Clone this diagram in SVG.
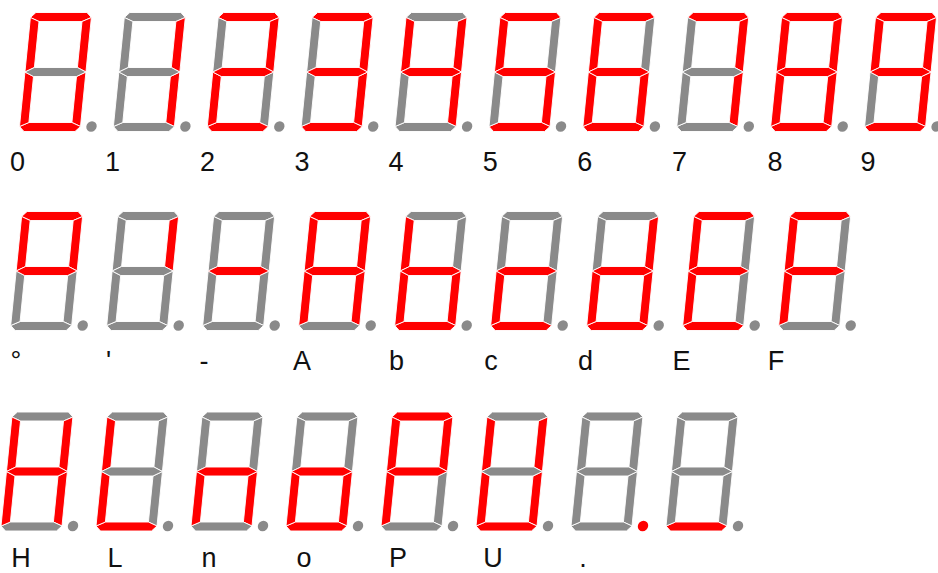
<svg xmlns="http://www.w3.org/2000/svg" width="938" height="573" viewBox="0 0 938 573">
<style>
.r{fill:#ff0000}
.k{fill:#8a8a8a}
.s{stroke:#ffffff;stroke-width:0.9;stroke-linejoin:miter}
.lbl{font-family:"Liberation Sans",Arial,sans-serif;font-size:27px;fill:#111;text-anchor:middle}
</style>
<defs>
<polygon id="a" class="s" points="5,0 56,0 61,5 52,9 9,9 0,5"/>
<polygon id="b" class="s" points="61,5 61,59.5 52,55 52,9"/>
<polygon id="c" class="s" points="61,59.5 61,114 52,110 52,64"/>
<polygon id="d" class="s" points="0,114 9,110 52,110 61,114 56,119 5,119"/>
<polygon id="e" class="s" points="0,59.5 9,64 9,110 0,114"/>
<polygon id="f" class="s" points="0,5 9,9 9,55 0,59.5"/>
<polygon id="g" class="s" points="0,59.5 9,55 52,55 61,59.5 52,64 9,64"/>
<circle id="p" cx="72" cy="114" r="5.2"/>
</defs>
<g id="row1">
<g id="dig0" transform="translate(30.9,12.5) skewX(-5.71)"><use href="#a" class="r"/><use href="#b" class="r"/><use href="#c" class="r"/><use href="#d" class="r"/><use href="#e" class="r"/><use href="#f" class="r"/><use href="#g" class="k"/><use href="#p" class="k"/></g>
<g id="dig1" transform="translate(124.8,12.5) skewX(-5.71)"><use href="#a" class="k"/><use href="#b" class="r"/><use href="#c" class="r"/><use href="#d" class="k"/><use href="#e" class="k"/><use href="#f" class="k"/><use href="#g" class="k"/><use href="#p" class="k"/></g>
<g id="dig2" transform="translate(218.7,12.5) skewX(-5.71)"><use href="#a" class="r"/><use href="#b" class="r"/><use href="#c" class="k"/><use href="#d" class="r"/><use href="#e" class="r"/><use href="#f" class="k"/><use href="#g" class="r"/><use href="#p" class="k"/></g>
<g id="dig3" transform="translate(312.6,12.5) skewX(-5.71)"><use href="#a" class="r"/><use href="#b" class="r"/><use href="#c" class="r"/><use href="#d" class="r"/><use href="#e" class="k"/><use href="#f" class="k"/><use href="#g" class="r"/><use href="#p" class="k"/></g>
<g id="dig4" transform="translate(406.5,12.5) skewX(-5.71)"><use href="#a" class="k"/><use href="#b" class="r"/><use href="#c" class="r"/><use href="#d" class="k"/><use href="#e" class="k"/><use href="#f" class="r"/><use href="#g" class="r"/><use href="#p" class="k"/></g>
<g id="dig5" transform="translate(500.4,12.5) skewX(-5.71)"><use href="#a" class="r"/><use href="#b" class="k"/><use href="#c" class="r"/><use href="#d" class="r"/><use href="#e" class="k"/><use href="#f" class="r"/><use href="#g" class="r"/><use href="#p" class="k"/></g>
<g id="dig6" transform="translate(594.3,12.5) skewX(-5.71)"><use href="#a" class="r"/><use href="#b" class="k"/><use href="#c" class="r"/><use href="#d" class="r"/><use href="#e" class="r"/><use href="#f" class="r"/><use href="#g" class="r"/><use href="#p" class="k"/></g>
<g id="dig7" transform="translate(688.2,12.5) skewX(-5.71)"><use href="#a" class="r"/><use href="#b" class="r"/><use href="#c" class="r"/><use href="#d" class="k"/><use href="#e" class="k"/><use href="#f" class="k"/><use href="#g" class="k"/><use href="#p" class="k"/></g>
<g id="dig8" transform="translate(782.1,12.5) skewX(-5.71)"><use href="#a" class="r"/><use href="#b" class="r"/><use href="#c" class="r"/><use href="#d" class="r"/><use href="#e" class="r"/><use href="#f" class="r"/><use href="#g" class="r"/><use href="#p" class="k"/></g>
<g id="dig9" transform="translate(876,12.5) skewX(-5.71)"><use href="#a" class="r"/><use href="#b" class="r"/><use href="#c" class="r"/><use href="#d" class="r"/><use href="#e" class="k"/><use href="#f" class="r"/><use href="#g" class="r"/><use href="#p" class="k"/></g>
</g>
<g id="row2">
<g id="degree" transform="translate(22.1,211.5) skewX(-5.71)"><use href="#a" class="r"/><use href="#b" class="r"/><use href="#c" class="k"/><use href="#d" class="k"/><use href="#e" class="k"/><use href="#f" class="r"/><use href="#g" class="r"/><use href="#p" class="k"/></g>
<g id="apos" transform="translate(118.1,211.5) skewX(-5.71)"><use href="#a" class="k"/><use href="#b" class="r"/><use href="#c" class="k"/><use href="#d" class="k"/><use href="#e" class="k"/><use href="#f" class="k"/><use href="#g" class="k"/><use href="#p" class="k"/></g>
<g id="dash" transform="translate(214.1,211.5) skewX(-5.71)"><use href="#a" class="k"/><use href="#b" class="k"/><use href="#c" class="k"/><use href="#d" class="k"/><use href="#e" class="k"/><use href="#f" class="k"/><use href="#g" class="r"/><use href="#p" class="k"/></g>
<g id="chA" transform="translate(310.1,211.5) skewX(-5.71)"><use href="#a" class="r"/><use href="#b" class="r"/><use href="#c" class="r"/><use href="#d" class="k"/><use href="#e" class="r"/><use href="#f" class="r"/><use href="#g" class="r"/><use href="#p" class="k"/></g>
<g id="chb" transform="translate(406.1,211.5) skewX(-5.71)"><use href="#a" class="k"/><use href="#b" class="k"/><use href="#c" class="r"/><use href="#d" class="r"/><use href="#e" class="r"/><use href="#f" class="r"/><use href="#g" class="r"/><use href="#p" class="k"/></g>
<g id="chc" transform="translate(502.1,211.5) skewX(-5.71)"><use href="#a" class="k"/><use href="#b" class="k"/><use href="#c" class="k"/><use href="#d" class="r"/><use href="#e" class="r"/><use href="#f" class="k"/><use href="#g" class="r"/><use href="#p" class="k"/></g>
<g id="chd" transform="translate(598.1,211.5) skewX(-5.71)"><use href="#a" class="k"/><use href="#b" class="r"/><use href="#c" class="r"/><use href="#d" class="r"/><use href="#e" class="r"/><use href="#f" class="k"/><use href="#g" class="r"/><use href="#p" class="k"/></g>
<g id="chE" transform="translate(694.1,211.5) skewX(-5.71)"><use href="#a" class="r"/><use href="#b" class="k"/><use href="#c" class="k"/><use href="#d" class="r"/><use href="#e" class="r"/><use href="#f" class="r"/><use href="#g" class="r"/><use href="#p" class="k"/></g>
<g id="chF" transform="translate(790.1,211.5) skewX(-5.71)"><use href="#a" class="r"/><use href="#b" class="k"/><use href="#c" class="k"/><use href="#d" class="k"/><use href="#e" class="r"/><use href="#f" class="r"/><use href="#g" class="r"/><use href="#p" class="k"/></g>
</g>
<g id="row3">
<g id="chH" transform="translate(12.4,412) skewX(-5.71)"><use href="#a" class="k"/><use href="#b" class="r"/><use href="#c" class="r"/><use href="#d" class="k"/><use href="#e" class="r"/><use href="#f" class="r"/><use href="#g" class="r"/><use href="#p" class="k"/></g>
<g id="chL" transform="translate(107.4,412) skewX(-5.71)"><use href="#a" class="k"/><use href="#b" class="k"/><use href="#c" class="k"/><use href="#d" class="r"/><use href="#e" class="r"/><use href="#f" class="r"/><use href="#g" class="k"/><use href="#p" class="k"/></g>
<g id="chn" transform="translate(202.4,412) skewX(-5.71)"><use href="#a" class="k"/><use href="#b" class="k"/><use href="#c" class="r"/><use href="#d" class="k"/><use href="#e" class="r"/><use href="#f" class="k"/><use href="#g" class="r"/><use href="#p" class="k"/></g>
<g id="cho" transform="translate(297.4,412) skewX(-5.71)"><use href="#a" class="k"/><use href="#b" class="k"/><use href="#c" class="r"/><use href="#d" class="r"/><use href="#e" class="r"/><use href="#f" class="k"/><use href="#g" class="r"/><use href="#p" class="k"/></g>
<g id="chP" transform="translate(392.4,412) skewX(-5.71)"><use href="#a" class="r"/><use href="#b" class="r"/><use href="#c" class="k"/><use href="#d" class="k"/><use href="#e" class="r"/><use href="#f" class="r"/><use href="#g" class="r"/><use href="#p" class="k"/></g>
<g id="chU" transform="translate(487.4,412) skewX(-5.71)"><use href="#a" class="k"/><use href="#b" class="r"/><use href="#c" class="r"/><use href="#d" class="r"/><use href="#e" class="r"/><use href="#f" class="r"/><use href="#g" class="k"/><use href="#p" class="k"/></g>
<g id="chdot" transform="translate(582.4,412) skewX(-5.71)"><use href="#a" class="k"/><use href="#b" class="k"/><use href="#c" class="k"/><use href="#d" class="k"/><use href="#e" class="k"/><use href="#f" class="k"/><use href="#g" class="k"/><use href="#p" class="r"/></g>
<g id="chus" transform="translate(677.4,412) skewX(-5.71)"><use href="#a" class="k"/><use href="#b" class="k"/><use href="#c" class="k"/><use href="#d" class="r"/><use href="#e" class="k"/><use href="#f" class="k"/><use href="#g" class="k"/><use href="#p" class="k"/></g>
</g>
<g id="labels" class="lbl">
<text x="17.5" y="171">0</text><text x="112.5" y="171">1</text><text x="207.5" y="171">2</text><text x="302" y="171">3</text><text x="396" y="171">4</text><text x="490.3" y="171">5</text><text x="584.7" y="171">6</text><text x="679.5" y="171">7</text><text x="775" y="171">8</text><text x="868" y="171">9</text>
<text x="16" y="370">°</text><text x="108.5" y="370">'</text><text x="204" y="370">-</text><text x="302" y="370">A</text><text x="396.4" y="370">b</text><text x="491" y="370">c</text><text x="585.6" y="370">d</text><text x="681.5" y="370">E</text><text x="776" y="370">F</text>
<text x="21" y="567">H</text><text x="115" y="567">L</text><text x="209" y="567">n</text><text x="304" y="567">o</text><text x="398" y="567">P</text><text x="493" y="567">U</text><text x="583" y="567">.</text>
</g>
</svg>
